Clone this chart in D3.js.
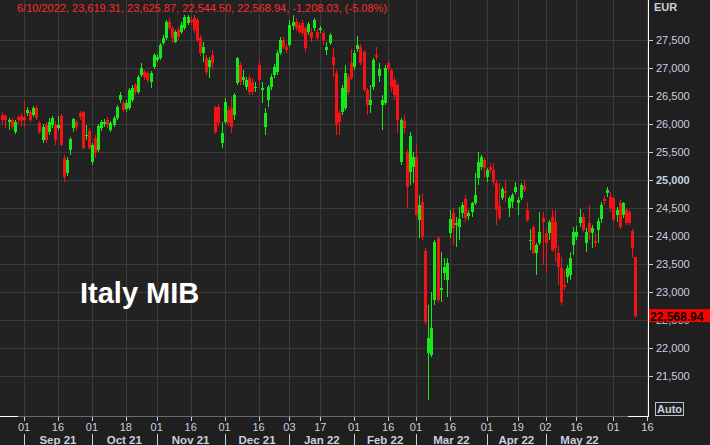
<!DOCTYPE html>
<html><head><meta charset="utf-8">
<script src="https://cdn.jsdelivr.net/npm/d3@7/dist/d3.min.js"></script>
<style>
html,body{margin:0;padding:0;background:#1f1f1f;overflow:hidden;}
svg{display:block;}
</style></head><body>
<svg id="c" width="710" height="445"></svg>
<script>
// ---- data (FTSE MIB daily candles, 2021-08-23 .. 2022-06-10) ----
const startDate = "2021-08-23";
const endDate = "2022-06-10";
const holidays = ["2021-12-24","2021-12-31","2022-04-15","2022-04-18"];

const openP = [26161,26143,26036,26071,25857,26125,26143,26125,26196,26214,26161,26286,26018,25714,25982,25857,25982,25982,25929,26143,
25393,25125,25536,25929,26036,26196,26214,25786,25875,25321,25750,25536,25929,26000,26071,25893,25982,26107,26429,26375,
26268,26286,26429,26696,26571,26875,26929,26911,26750,27018,27143,27179,27446,27536,27821,27714,27464,27679,27643,27714,
27804,27857,27893,27857,27536,27268,27179,27018,27232,26304,26304,25661,26036,26250,26286,26161,26732,27054,26786,26661,
26821,26750,26643,27054,26607,25946,26429,26661,26875,26929,27268,27500,27375,27411,27750,27821,27768,27804,27714,27643,
27643,27714,27643,27679,27625,27321,27446,27196,26911,26196,26214,26286,26839,27089,27018,27339,27375,27286,26607,26339,
26661,27232,26857,26339,26375,27089,26964,26786,26696,25321,26054,25500,25143,25232,25411,24286,24607,23732,21911,21875,
22857,23964,23036,23339,23214,24054,24411,24196,24161,24411,24661,24357,24429,24589,25036,25232,25357,25054,25232,25179,
24946,24536,24679,24804,24500,24607,24786,24589,24679,24893,24464,23911,24161,23696,23875,24321,24054,24054,24339,24250,
23696,23429,23125,23268,23304,23839,23982,24232,24339,23875,24232,24054,23911,24107,24304,24661,24768,24696,24679,24375,
24589,24375,24464,24429,24089,23619.31];
const highP = [26214,26179,26107,26107,26071,26161,26196,26411,26304,26250,26321,26321,26054,26000,26036,26107,26143,26054,26143,26179,
25446,25411,25768,26107,26071,26232,26232,25982,25929,25661,25804,26000,26071,26089,26125,26054,26143,26339,26571,26411,
26429,26643,26696,26732,26875,27089,26964,26946,26946,27268,27250,27446,27589,27857,27893,27750,27679,27732,27821,27946,
27946,27911,27946,27893,27589,27464,27232,27196,27321,26321,26357,26036,26464,26321,26482,26554,27196,27107,26964,26839,
26875,26821,26750,27143,26750,26286,26696,26893,27071,27321,27554,27554,27429,27857,27946,27893,27821,27857,27750,27821,
27714,27893,27696,27750,27679,27464,27625,27357,26964,26250,26696,27054,26893,27339,27321,27571,27429,27321,26643,26696,
27179,27375,27089,26518,27054,27143,27000,26839,26732,26107,26161,25536,25857,25500,25661,24732,24768,23786,22768,23000,
23929,24000,23714,23607,23607,24464,24500,24339,24518,24607,24732,24464,24607,25125,25500,25446,25393,25214,25304,25304,
25000,24946,24875,25000,24714,24768,24964,24696,24946,25000,24607,24125,24196,23875,24429,24429,24107,24286,24464,24464,
23821,23625,23393,23482,23714,24161,24179,24482,24411,24143,24554,24196,24054,24321,24607,24714,24875,24786,24714,24518,
24643,24607,24500,24464,24125,23625.87];
const lowP = [26000,25929,25893,25911,25821,26000,25964,25946,26143,26036,26125,26071,25821,25661,25661,25804,25929,25625,25893,25607,
24964,25071,25446,25857,25875,26071,25554,25714,25536,25268,25393,25500,25875,25946,25929,25857,25946,26071,26375,26214,
26214,26250,26393,26518,26536,26839,26786,26732,26643,26982,27107,27143,27411,27500,27679,27446,27446,27500,27607,27679,
27768,27768,27625,27464,27214,27107,26875,26821,26964,25821,25964,25571,26000,25964,25839,26071,26696,26696,26696,26607,
26518,26518,26571,26643,26375,25804,26304,26607,26821,26875,27232,27339,27268,27375,27679,27661,27607,27571,27286,27589,
27464,27661,27482,27625,27411,27232,27411,26839,25804,25804,26161,26250,26518,26786,26964,27286,27054,26571,26161,26196,
26607,27143,26750,25893,26339,26929,26571,26429,25839,25268,25839,24500,24911,24946,24339,23964,23929,22411,21071,21839,
22768,22804,22821,23214,22911,23964,23839,23804,23929,24321,24250,24286,24339,24554,24911,25179,25036,24964,25125,24911,
24196,24286,24643,24607,24339,24500,24750,24375,24643,24786,24250,23750,23679,23304,23839,23482,23339,23929,23714,23536,
23125,22768,23036,23161,23214,23661,23929,24161,24071,23714,23929,23786,23804,23875,24232,24554,24696,24429,24250,24250,
24125,24321,24196,24196,23607,22544.50];
const closeP = [26071,26071,26071,25946,26036,26071,26054,26071,26250,26071,26286,26107,25857,25946,25714,26036,26107,25714,25982,25625,
25054,25357,25732,26089,25946,26125,25571,25804,25571,25625,25482,25964,26036,26036,25982,26018,26107,26304,26518,26250,
26375,26607,26643,26571,26839,27000,26839,26786,26911,27232,27196,27411,27536,27821,27714,27536,27643,27554,27768,27911,
27911,27821,27679,27500,27268,27375,26929,27143,27089,25857,26018,25839,26393,26018,25946,26518,27179,26750,26839,26786,
26571,26571,26661,26786,26643,26196,26661,26839,27018,27268,27500,27375,27321,27768,27821,27714,27643,27625,27357,27786,
27536,27857,27536,27714,27500,27375,27589,27054,25982,26036,26643,26911,26571,26821,27268,27411,27089,26607,26339,26429,
27143,27196,26982,26429,27000,26982,26661,26518,26071,26071,25929,24875,25786,25411,24375,24554,23982,22464,22179,22357,
23893,22857,23071,23446,23518,24304,24143,24232,24304,24554,24321,24411,24589,24732,25321,25411,25214,25179,25179,24964,
24464,24321,24839,24768,24679,24732,24875,24643,24911,24821,24286,23929,23696,23839,24071,24250,23875,24250,23750,23786,
23446,22821,23089,23429,23607,24071,24071,24339,24107,24071,24071,24143,23875,24268,24554,24625,24821,24500,24286,24464,
24161,24589,24232,24232,23777,22568.94];

const yTicks = [21500,22000,22500,23000,23500,24000,24500,25000,25500,26000,26500,27000,27500];
const boldTick = 25000;
const dayTicks = [["2021-09-01","01"],["2021-09-16","16"],["2021-10-01","01"],["2021-10-18","18"],
  ["2021-11-01","01"],["2021-11-16","16"],["2021-12-01","01"],["2021-12-16","16"],["2022-01-03","03"],
  ["2022-01-17","17"],["2022-02-01","01"],["2022-02-16","16"],["2022-03-01","01"],["2022-03-16","16"],
  ["2022-04-01","01"],["2022-04-19","19"],["2022-05-02","02"],["2022-05-16","16"],["2022-06-01","01"],["2022-06-16","16"]];
const monthLabels = [["2021-09-01","2021-10-01","Sep 21"],["2021-10-01","2021-11-01","Oct 21"],
  ["2021-11-01","2021-12-01","Nov 21"],["2021-12-01","2022-01-03","Dec 21"],["2022-01-03","2022-02-01","Jan 22"],
  ["2022-02-01","2022-03-01","Feb 22"],["2022-03-01","2022-04-01","Mar 22"],["2022-04-01","2022-05-02","Apr 22"],
  ["2022-05-02","2022-06-01","May 22"]];
const header = "6/10/2022, 23,619.31, 23,625.87, 22,544.50, 22,568.94, -1,208.03, (-5.08%)";
const title = "Italy MIB";
const currency = "EUR";
const lastLabel = "22,568.94";
const lastValue = 22568.94;

// ---- trading calendar ----
const fmt = d3.utcFormat("%Y-%m-%d");
const allDays = d3.utcDays(new Date(startDate+"T00:00Z"), new Date("2022-07-01T00:00Z"))
  .filter(d => d.getUTCDay()!==0 && d.getUTCDay()!==6 && !holidays.includes(fmt(d)))
  .map(fmt);
const idx = s => allDays.indexOf(s);
const n = closeP.length;

const W = 710, H = 445, plotR = 648, plotB = 416;
const x = d3.scaleLinear().domain([0, 205]).range([2.4, 635.1]);
const y = d3.scaleLinear().domain([21500, 27500]).range([376, 40]);

const svg = d3.select("#c");
const font = "'Liberation Sans', Arial, sans-serif";
const axisCol = "#c9d1de";

svg.append("rect").attr("width",W).attr("height",H).attr("fill","#1f1f1f");
svg.append("rect").attr("width",plotR).attr("height",plotB).attr("fill","#222222");

// grid
const g = svg.append("g").attr("shape-rendering","crispEdges");
g.selectAll(".hg").data(yTicks).join("line")
  .attr("x1",0).attr("x2",plotR).attr("y1",d=>Math.round(y(d))+0.5).attr("y2",d=>Math.round(y(d))+0.5)
  .attr("stroke","#3a3a3a");
g.selectAll(".vg").data(dayTicks).join("line")
  .attr("x1",d=>Math.round(x(idx(d[0])))+0.5).attr("x2",d=>Math.round(x(idx(d[0])))+0.5)
  .attr("y1",0).attr("y2",plotB).attr("stroke","#3a3a3a");

// candles
const cg = svg.append("g").attr("shape-rendering","crispEdges");
const data = d3.range(n).map(i => ({i, o:openP[i], h:highP[i], l:lowP[i], c:closeP[i]}));
const col = d => d.c >= d.o ? "#17e817" : "#f21414";
cg.selectAll(".wick").data(data).join("line")
  .attr("x1",d=>Math.round(x(d.i))+0.5).attr("x2",d=>Math.round(x(d.i))+0.5)
  .attr("y1",d=>y(d.h)).attr("y2",d=>y(d.l)).attr("stroke",col);
cg.selectAll(".body").data(data).join("rect")
  .attr("x",d=>Math.round(x(d.i))-1).attr("width",3)
  .attr("y",d=>y(Math.max(d.o,d.c)))
  .attr("height",d=>Math.max(1, Math.abs(y(d.o)-y(d.c))))
  .attr("fill",col);

// axes lines
const ag = svg.append("g").attr("shape-rendering","crispEdges");
ag.append("line").attr("x1",0).attr("x2",plotR).attr("y1",plotB+0.5).attr("y2",plotB+0.5).attr("stroke","#6a6a6a");
ag.append("line").attr("x1",0).attr("x2",18).attr("y1",plotB+0.5).attr("y2",plotB+0.5).attr("stroke","#ffffff");
ag.append("line").attr("x1",628).attr("x2",plotR).attr("y1",plotB+0.5).attr("y2",plotB+0.5).attr("stroke","#ffffff");
ag.append("line").attr("x1",plotR+0.5).attr("x2",plotR+0.5).attr("y1",0).attr("y2",plotB+1).attr("stroke","#ffffff");

// right axis
const ya = svg.append("g").attr("transform",`translate(${plotR},0)`)
  .call(d3.axisRight(y).tickValues(yTicks).tickSize(5).tickPadding(3).tickFormat(d3.format(",")));
ya.select(".domain").remove();
ya.selectAll(".tick line").attr("stroke",axisCol);
ya.selectAll(".tick text").attr("fill",axisCol).attr("font-family",font).attr("font-size",11)
  .attr("font-weight",d=>d===boldTick?"bold":"normal");
svg.append("text").attr("x",654).attr("y",11).text(currency).attr("fill",axisCol)
  .attr("font-family",font).attr("font-size",11).attr("font-weight","bold");

// last price tag
svg.append("rect").attr("x",plotR+1).attr("y",y(lastValue)-7).attr("width",W-plotR-1).attr("height",13).attr("fill","#ff0000");
svg.append("text").attr("x",plotR+2).attr("y",y(lastValue)+5).text(lastLabel).attr("fill","#000")
  .attr("font-family",font).attr("font-size",12).attr("font-weight","bold");

// Auto box
svg.append("rect").attr("x",655.5).attr("y",402.5).attr("width",28).attr("height",13)
  .attr("fill","none").attr("stroke","#b8c0cc");
svg.append("text").attr("x",669.5).attr("y",413).attr("text-anchor","middle").text("Auto")
  .attr("fill",axisCol).attr("font-family",font).attr("font-size",11).attr("font-weight","bold");

// bottom axis
const xa = svg.append("g");
xa.selectAll(".dt").data(dayTicks).join("line").attr("shape-rendering","crispEdges")
  .attr("x1",d=>Math.round(x(idx(d[0])))+0.5).attr("x2",d=>Math.round(x(idx(d[0])))+0.5)
  .attr("y1",plotB+1).attr("y2",plotB+5).attr("stroke",axisCol);
xa.selectAll(".dl").data(dayTicks).join("text")
  .attr("x",d=>x(idx(d[0]))).attr("y",431).attr("text-anchor","middle").text(d=>d[1])
  .attr("fill",axisCol).attr("font-family",font).attr("font-size",11);
xa.selectAll(".ms").data(monthLabels).join("line").attr("shape-rendering","crispEdges")
  .attr("x1",d=>Math.round(x(idx(d[0])))+0.5).attr("x2",d=>Math.round(x(idx(d[0])))+0.5)
  .attr("y1",434).attr("y2",445).attr("stroke",axisCol);
xa.selectAll(".ml").data(monthLabels).join("text")
  .attr("x",d=>(x(idx(d[0]))+x(idx(d[1])))/2).attr("y",444).attr("text-anchor","middle").text(d=>d[2])
  .attr("fill",axisCol).attr("font-family",font).attr("font-size",11.5).attr("font-weight","bold");

// header + title
svg.append("text").attr("x",17).attr("y",12).text(header).attr("fill","#ff2a2a")
  .attr("font-family",font).attr("font-size",11);
svg.append("text").attr("x",80).attr("y",303).text(title).attr("fill","#ffffff")
  .attr("font-family",font).attr("font-size",29).attr("font-weight","bold");
</script>
</body></html>
